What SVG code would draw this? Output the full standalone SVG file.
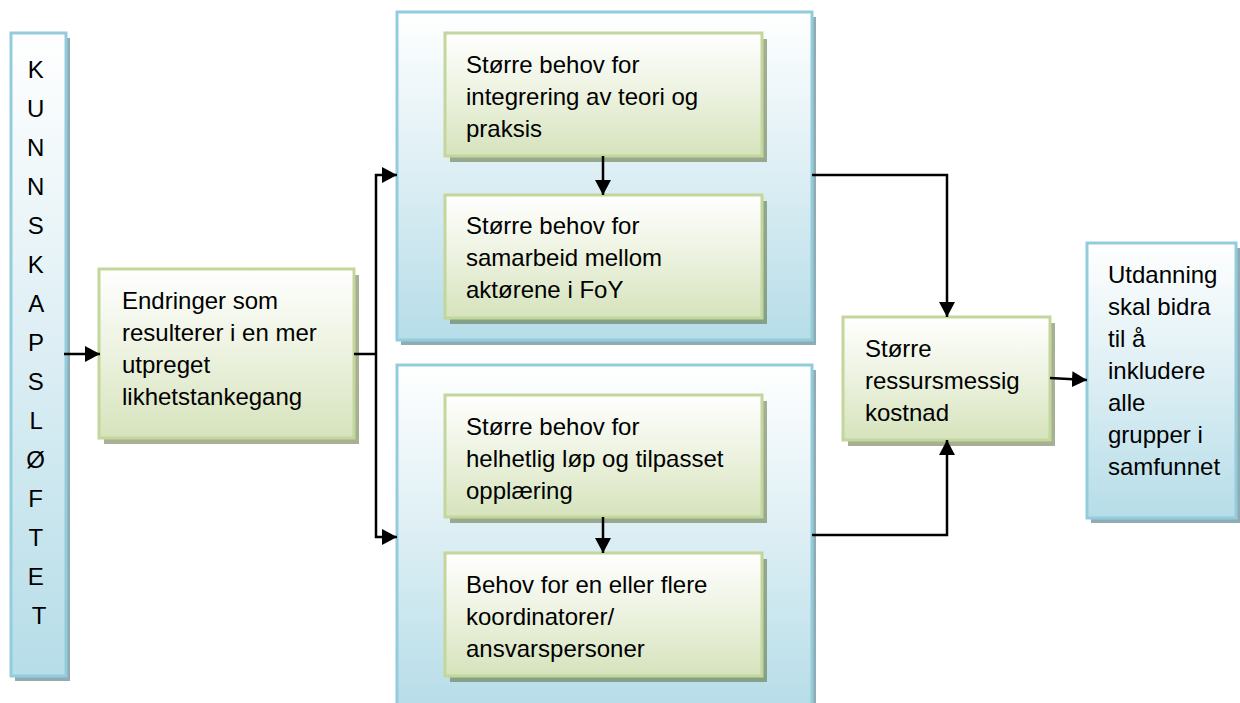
<svg xmlns="http://www.w3.org/2000/svg" width="1240" height="703" viewBox="0 0 1240 703">
<defs>
<linearGradient id="gGreen" x1="0" y1="0" x2="0" y2="1">
<stop offset="0" stop-color="#ffffff"/>
<stop offset="0.5" stop-color="#ecf2df"/>
<stop offset="1" stop-color="#d6e3bc"/>
</linearGradient>
<linearGradient id="gBlue" x1="0" y1="0" x2="0" y2="1">
<stop offset="0" stop-color="#ffffff"/>
<stop offset="0.5" stop-color="#dceef4"/>
<stop offset="1" stop-color="#b6dde8"/>
</linearGradient>
<marker id="arr" markerUnits="userSpaceOnUse" markerWidth="16" markerHeight="16" refX="15" refY="8" orient="auto" viewBox="0 0 16 16">
<path d="M0,0 L15,8 L0,16 z" fill="#000"/>
</marker>
<style>
.gbox{fill:url(#gGreen);stroke:#c3d69b;stroke-width:3}
.gsh{fill:#4f6228;opacity:0.5}
.bbox{fill:url(#gBlue);stroke:#93cddd;stroke-width:3}
.bsh{fill:#205867;opacity:0.5}
.t{font-family:"Liberation Sans",Arial,sans-serif;font-size:24px;fill:#000}
.c{fill:none;stroke:#000;stroke-width:2.5}
</style>
</defs>

<g id="kunnskapsloftet">
<rect class="bsh" x="15" y="38" width="55" height="643"/>
<rect class="bbox" x="11" y="33" width="55" height="643"/>
<text class="t" text-anchor="middle">
<tspan x="39" y="78">K</tspan>
<tspan x="39" y="117">U</tspan>
<tspan x="39" y="156">N</tspan>
<tspan x="39" y="195">N</tspan>
<tspan x="39" y="234">S</tspan>
<tspan x="39" y="273">K</tspan>
<tspan x="39" y="312">A</tspan>
<tspan x="39" y="351">P</tspan>
<tspan x="39" y="390">S</tspan>
<tspan x="39" y="429">L</tspan>
<tspan x="39" y="468">Ø</tspan>
<tspan x="39" y="507">F</tspan>
<tspan x="39" y="546">T</tspan>
<tspan x="39" y="585">E</tspan>
<tspan x="39" y="624">T</tspan>
</text>
</g>

<g id="endringer">
<rect class="gsh" x="104" y="275" width="255" height="169"/>
<rect class="gbox" x="99" y="269" width="255" height="169"/>
<text class="t">
<tspan x="122" y="309">Endringer som</tspan>
<tspan x="122" y="341">resulterer i en mer</tspan>
<tspan x="122" y="373">utpreget</tspan>
<tspan x="122" y="405">likhetstankegang</tspan>
</text>
</g>

<g id="outerTop">
<rect class="bsh" x="401" y="17" width="415" height="328"/>
<rect class="bbox" x="397" y="12" width="415" height="328"/>
</g>

<g id="inner1">
<rect class="gsh" x="450" y="39" width="317" height="123"/>
<rect class="gbox" x="445" y="33" width="317" height="123"/>
<text class="t">
<tspan x="466" y="73">Større behov for</tspan>
<tspan x="466" y="105">integrering av teori og</tspan>
<tspan x="466" y="137">praksis</tspan>
</text>
</g>

<g id="inner2">
<rect class="gsh" x="450" y="201" width="317" height="123"/>
<rect class="gbox" x="445" y="195" width="317" height="123"/>
<text class="t">
<tspan x="466" y="234">Større behov for</tspan>
<tspan x="466" y="266">samarbeid mellom</tspan>
<tspan x="466" y="298">aktørene i FoY</tspan>
</text>
</g>

<g id="outerBottom">
<rect class="bsh" x="401" y="370" width="415" height="345"/>
<rect class="bbox" x="397" y="365" width="415" height="345"/>
</g>

<g id="inner3">
<rect class="gsh" x="450" y="401" width="317" height="122"/>
<rect class="gbox" x="445" y="395" width="317" height="122"/>
<text class="t">
<tspan x="466" y="435">Større behov for</tspan>
<tspan x="466" y="467">helhetlig løp og tilpasset</tspan>
<tspan x="466" y="499">opplæring</tspan>
</text>
</g>

<g id="inner4">
<rect class="gsh" x="450" y="559" width="317" height="123"/>
<rect class="gbox" x="445" y="553" width="317" height="123"/>
<text class="t">
<tspan x="466" y="593">Behov for en eller flere</tspan>
<tspan x="466" y="625">koordinatorer/</tspan>
<tspan x="466" y="657">ansvarspersoner</tspan>
</text>
</g>

<g id="storre">
<rect class="gsh" x="848" y="323" width="207" height="123"/>
<rect class="gbox" x="843" y="317" width="207" height="123"/>
<text class="t">
<tspan x="865" y="357">Større</tspan>
<tspan x="865" y="389">ressursmessig</tspan>
<tspan x="865" y="421">kostnad</tspan>
</text>
</g>

<g id="utdanning">
<rect class="bsh" x="1091" y="248" width="149" height="275"/>
<rect class="bbox" x="1087" y="243" width="149" height="275"/>
<text class="t">
<tspan x="1108" y="283">Utdanning</tspan>
<tspan x="1108" y="315">skal bidra</tspan>
<tspan x="1108" y="347">til å</tspan>
<tspan x="1108" y="379">inkludere</tspan>
<tspan x="1108" y="411">alle</tspan>
<tspan x="1108" y="443">grupper i</tspan>
<tspan x="1108" y="475">samfunnet</tspan>
</text>
</g>

<g id="connectors">
<path class="c" d="M64,354 H100" marker-end="url(#arr)"/>
<path class="c" d="M354,354 H376"/>
<path class="c" d="M376,354 V175 H397" marker-end="url(#arr)"/>
<path class="c" d="M376,354 V537 H397" marker-end="url(#arr)"/>
<path class="c" d="M603,156 V195" marker-end="url(#arr)"/>
<path class="c" d="M603,517 V553" marker-end="url(#arr)"/>
<path class="c" d="M812,175 H947 V317" marker-end="url(#arr)"/>
<path class="c" d="M812,535 H947 V440" marker-end="url(#arr)"/>
<path class="c" d="M1050,378 L1087,380" marker-end="url(#arr)"/>
</g>
</svg>
